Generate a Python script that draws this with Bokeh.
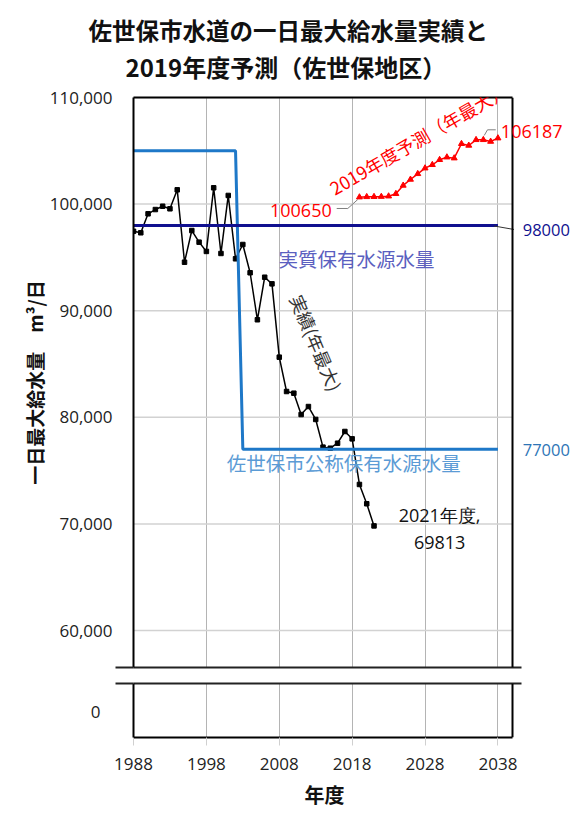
from bokeh.plotting import figure
from bokeh.models import (Range1d, FixedTicker, NumeralTickFormatter, Label, LinearAxis,
                          Grid, Span, Title)
from bokeh.layouts import column
from bokeh.embed import file_html
from bokeh.resources import INLINE

# ---------------- data ----------------
years_actual = list(range(1988, 2022))
actual_max = [97450, 97310, 99090, 99490, 99800, 99560, 101340, 94550, 97520, 96430,
              95560, 101530, 95370, 100810, 94870, 96210, 93560, 89150, 93140, 92520,
              85640, 82420, 82260, 80260, 81010, 79800, 77200, 77100, 77570, 78670,
              77980, 73700, 71890, 69813]

years_forecast = list(range(2019, 2039))
forecast_max = [100650, 100680, 100690, 100700, 100740, 100970, 101750, 102310, 102840, 103370,
                103690, 104160, 104400, 104310, 105660, 105500, 106030, 106030, 105870, 106187]

nominal_years = [1988, 2002, 2003, 2038]
nominal_capacity = [105000, 105000, 77000, 77000]

real_years = [1988, 2038]
real_capacity = [98000, 98000]

x_ticks = [1988, 1998, 2008, 2018, 2028, 2038]
y_ticks_upper = [60000, 70000, 80000, 90000, 100000, 110000]
y_ticks_lower = [0]

title_line1 = "佐世保市水道の一日最大給水量実績と"
title_line2 = "2019年度予測（佐世保地区）"
y_title = "一日最大給水量　m³/日"
x_title = "年度"

# ---------------- layout / styling ----------------
W = 572
X0, X1 = 1988, 2040            # visible chart frame in years
PX_PER_YEAR = 379 / 52.0
X1_EXT = X1 + 60 / PX_PER_YEAR  # canvas keeps room for right-hand labels
UP_BOTTOM, UP_TOP = 56530, 110000
LO_BOTTOM, LO_TOP = -2345, 2720
BREAK_RIGHT = X1 + 9 / PX_PER_YEAR

JP = "Noto Sans CJK JP"
NUM = "Open Sans"
BLACK = "#000000"
RED = "#ff0000"
NAVY = "#10108f"
BLUE = "#1e78c8"
GRID_V = "#b4b4b4"
GRID_H = "#d2d2d2"
TXT = "#222222"


def drop_grids(fig):
    fig.center = [r for r in fig.center if not isinstance(r, Grid)]


def line_axis(ticks, tick_out, line_color, bounds="auto", tick_color="#222222"):
    ax = LinearAxis(ticker=FixedTicker(ticks=ticks), bounds=bounds)
    ax.major_label_overrides = {t: "" for t in ticks}
    ax.major_label_text_color = None
    ax.major_label_standoff = 0
    ax.minor_tick_line_color = None
    ax.minor_tick_out = 0
    ax.minor_tick_in = 0
    ax.major_tick_in = 0
    ax.major_tick_out = tick_out
    ax.major_tick_line_color = tick_color
    ax.major_tick_line_width = 2
    ax.axis_line_color = line_color
    ax.axis_line_width = 2
    return ax


def label_axis(ticks, standoff):
    ax = LinearAxis(ticker=FixedTicker(ticks=ticks), formatter=NumeralTickFormatter(format="0,0"))
    ax.major_label_text_font = NUM
    ax.major_label_text_font_size = "17px"
    ax.major_label_text_color = TXT
    ax.major_tick_line_color = None
    ax.minor_tick_line_color = None
    ax.major_tick_out = 0
    ax.major_tick_in = 0
    ax.axis_line_color = None
    ax.major_label_standoff = standoff
    return ax


# ---------------- upper panel ----------------
p1 = figure(width=W, height=675, x_range=Range1d(X0, X1_EXT), y_range=Range1d(UP_BOTTOM, UP_TOP),
            output_backend="svg", toolbar_location=None,
            x_axis_location=None, y_axis_location=None,
            min_border_left=133, min_border_right=0, min_border_top=97, min_border_bottom=8)
drop_grids(p1)
p1.background_fill_color = "white"
p1.border_fill_color = "white"
p1.outline_line_color = None

p1.add_layout(line_axis([UP_BOTTOM], 18, BLACK), "left")          # left frame + break tick
ya = label_axis(y_ticks_upper, 3)
ya.axis_label = y_title
ya.axis_label_text_font = JP
ya.axis_label_text_font_style = "bold"
ya.axis_label_text_font_size = "19px"
ya.axis_label_text_color = "#111111"
ya.axis_label_standoff = -1
p1.add_layout(ya, "left")

p1.add_layout(line_axis([], 0, BLACK, bounds=(X0, X1)), "above")            # top frame
p1.add_layout(line_axis([], 0, "#222222", bounds=(X0, BREAK_RIGHT)), "below")  # break line
p1.add_layout(Span(location=X1, dimension="height", line_color=BLACK, line_width=2))

# titles
t2 = Title(text=title_line2, align="left", offset=-8, standoff=25, vertical_align="middle",
           text_font=JP, text_font_size="24px", text_font_style="bold", text_color="#111111")
p1.add_layout(t2, "above")
t1 = Title(text=title_line1, align="left", offset=-45, standoff=-24, vertical_align="middle",
           text_font=JP, text_font_size="23.5px", text_font_style="bold", text_color="#111111")
p1.add_layout(t1, "above")

# grids
p1.add_layout(Grid(dimension=0, ticker=FixedTicker(ticks=x_ticks), grid_line_color=GRID_V,
                   grid_line_width=1))
p1.segment(x0=X0, x1=X1, y0=y_ticks_upper, y1=y_ticks_upper, line_color=GRID_H, line_width=1.5)

# series
p1.line(years_actual, actual_max, line_color=BLACK, line_width=1.5)
p1.scatter(years_actual, actual_max, marker="square", size=4.5, color=BLACK)
p1.line(nominal_years, nominal_capacity, line_color=BLUE, line_width=3)
p1.line(real_years, real_capacity, line_color=NAVY, line_width=3)
p1.line(years_forecast, forecast_max, line_color=RED, line_width=1.5)
p1.scatter(years_forecast, forecast_max, marker="triangle", size=6, color=RED)

# leader lines (relative to the data end points)
fx0, fy0 = years_forecast[0], forecast_max[0]
p1.line([fx0 - 3.12, fx0 - 1.6, fx0 - 0.23], [fy0 - 1062, fy0 - 1062, fy0 - 218],
        line_color="#7f7f7f", line_width=1)
fx1, fy1 = years_forecast[-1], forecast_max[-1]
p1.line([fx1 - 1.88, fx1 - 1.43, fx1 - 0.3], [fy1 + 249, fy1 + 783, fy1 + 783],
        line_color="#7f7f7f", line_width=1)
rx1, ry1 = real_years[-1], real_capacity[-1]
p1.line([rx1 - 0.55, rx1 + 2.2], [ry1 - 50, ry1 - 380], line_color="#333333", line_width=1)


def lab(fig, x, y, text, color, size, align="left", font=JP, angle=0, style="normal"):
    fig.add_layout(Label(x=x, y=y, text=text, text_color=color, text_font=font,
                         text_font_size=size, text_align=align, text_baseline="middle",
                         angle=angle, angle_units="deg", text_font_style=style))


lab(p1, 2007.9, 94900, "実質保有水源水量", "#5b5fc0", "19.5px")
lab(p1, 2000.8, 75760, "佐世保市公称保有水源水量", "#5b9bd5", "19.5px")
lab(p1, 2013.1, 87000, "実績(年最大)", "#333333", "18px", align="center", angle=-67)
lab(p1, 2027.1, 106150, "2019年度予測（年最大）", RED, "18px", align="center", angle=30)
lab(p1, 2015.2, 99400, "100650", RED, "18px", align="right", font=NUM)
lab(p1, 2038.4, 106810, "106187", RED, "18px", font=NUM)
lab(p1, 2041.4, 97525, "98000", NAVY, "16.5px", font=NUM)
lab(p1, 2041.4, 76960, "77000", "#2e75b6", "16.5px", font=NUM)
lab(p1, 2030.0, 70790, "2021年度,", "#111111", "18px", align="center", font=NUM)
lab(p1, 2030.0, 68260, "69813", "#111111", "18px", align="center", font=NUM)

# ---------------- lower panel ----------------
p2 = figure(width=W, height=142, x_range=Range1d(X0, X1_EXT), y_range=Range1d(LO_BOTTOM, LO_TOP),
            output_backend="svg", toolbar_location=None,
            x_axis_location=None, y_axis_location=None,
            min_border_left=133, min_border_right=0, min_border_top=8, min_border_bottom=80)
drop_grids(p2)
p2.background_fill_color = "white"
p2.border_fill_color = "white"
p2.outline_line_color = None
p2.add_layout(Grid(dimension=0, ticker=FixedTicker(ticks=x_ticks), grid_line_color=GRID_V,
                   grid_line_width=1))

p2.add_layout(line_axis([LO_TOP], 18, BLACK), "left")            # left frame + break tick
p2.add_layout(label_axis(y_ticks_lower, 15), "left")
p2.add_layout(line_axis([], 0, "#222222", bounds=(X0, BREAK_RIGHT)), "above")  # break line
p2.add_layout(Span(location=X1, dimension="height", line_color=BLACK, line_width=2))

xb = LinearAxis(ticker=FixedTicker(ticks=x_ticks), bounds=(X0, X1))
xb.major_label_text_font = NUM
xb.major_label_text_font_size = "17px"
xb.major_label_text_color = TXT
xb.major_tick_line_color = "#d0d0d0"
xb.major_tick_out = 8
xb.major_tick_in = 0
xb.minor_tick_line_color = None
xb.minor_tick_out = 0
xb.minor_tick_in = 0
xb.axis_line_color = BLACK
xb.axis_line_width = 2
xb.major_label_standoff = 12
p2.add_layout(xb, "below")

tx = Title(text=x_title, align="left", offset=171, standoff=12.5, vertical_align="middle",
           text_font=JP, text_font_size="20px", text_font_style="bold", text_color="#111111")
p2.add_layout(tx, "below")

layout = column(p1, p2, spacing=0)
open("out.html", "w").write(file_html(layout, INLINE))
